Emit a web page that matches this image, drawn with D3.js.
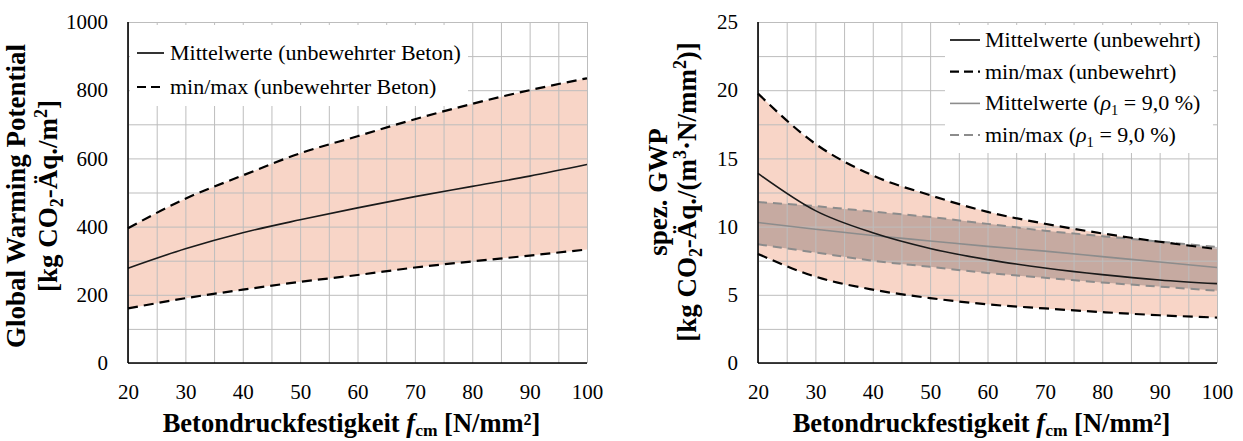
<!DOCTYPE html>
<html>
<head>
<meta charset="utf-8">
<script src="https://cdn.jsdelivr.net/npm/d3@7"></script>
<style>
body { margin: 0; background: #fff; }
svg text { font-family: "Liberation Serif", "Times New Roman", Times, serif; fill: #000; }
</style>
</head>
<body>
<svg id="chart" width="1243" height="441" font-family="Liberation Serif, serif"></svg>
<script>
var SERIF = "'Liberation Serif', 'Times New Roman', Times, serif";

// Betondruckfestigkeit f_cm [N/mm²]
var fcm = [20, 30, 40, 50, 60, 70, 80, 90, 100];

// left: Global Warming Potential [kg CO2-Äq./m²]
var gwpMean = [278, 335, 382, 420, 455, 488, 518, 548, 582];
var gwpMin  = [160, 190, 215, 238, 258, 280, 298, 315, 333];
var gwpMax  = [395, 482, 550, 615, 665, 715, 760, 800, 835];

// right: spez. GWP, unbewehrt
var specMean = [13.9, 11.17, 9.55, 8.4, 7.58, 6.97, 6.48, 6.09, 5.82];
var specMin  = [8.0, 6.33, 5.38, 4.76, 4.3, 4.0, 3.73, 3.5, 3.33];
var specMax  = [19.75, 16.07, 13.75, 12.3, 11.08, 10.21, 9.5, 8.89, 8.35];

// right: spez. GWP, rho1 = 9,0 %
var rhoMean = [10.3, 9.8, 9.35, 8.95, 8.55, 8.2, 7.8, 7.4, 7.0];
var rhoMin  = [8.7, 8.1, 7.5, 7.05, 6.6, 6.25, 5.9, 5.6, 5.3];
var rhoMax  = [11.8, 11.5, 11.1, 10.7, 10.2, 9.7, 9.3, 8.9, 8.5];

var xTicks = [20, 30, 40, 50, 60, 70, 80, 90, 100];
var gwpTicks = [0, 200, 400, 600, 800, 1000];
var specTicks = [0, 5, 10, 15, 20, 25];

var svg = d3.select("#chart");
var yTop = 22, yBot = 363;

// writes a list of text pieces (italic / sub / sup) into a text element
function rich(sel, parts, size, subShift) {
    var shift = 0;
    parts.forEach(function(p) {
        var t = sel.append("tspan").text(p.t);
        var s = 0;
        if (p.sub) s = size * (subShift || 0.22);
        if (p.sup) s = -size * 0.38;
        if (p.sub || p.sup) t.attr("font-size", size * 0.66);
        if (s != shift) t.attr("dy", s - shift);
        shift = s;
        if (p.it) t.style("font-style", "italic");
    });
}

function panel(cfg) {
    var g = svg.append("g");
    var x = d3.scaleLinear().domain([20, 100]).range([cfg.x0, cfg.x1]);
    var y = d3.scaleLinear().domain([0, cfg.ymax]).range([yBot, yTop]);

    // bands
    cfg.bands.forEach(function(b) {
        var area = d3.area()
            .curve(d3.curveMonotoneX)
            .x(function(d, i) { return x(fcm[i]); })
            .y0(function(d, i) { return y(b.lo[i]); })
            .y1(function(d, i) { return y(b.hi[i]); });
        g.append("path").datum(fcm).attr("d", area).attr("fill", b.fill).attr("stroke", "none");
    });

    // grid
    var gx = g.append("g").attr("transform", "translate(0," + yBot + ")")
        .call(d3.axisBottom(x).tickValues(d3.range(20, 101, 5)).tickSize(-(yBot - yTop)).tickFormat(""));
    var gy = g.append("g").attr("transform", "translate(" + cfg.x0 + ",0)")
        .call(d3.axisLeft(y).tickValues(d3.range(0, cfg.ymax + 0.01, cfg.gridStep)).tickSize(-(cfg.x1 - cfg.x0)).tickFormat(""));
    [gx, gy].forEach(function(a) {
        a.select(".domain").remove();
        a.selectAll("line").attr("stroke", "#bdbdbd").attr("stroke-width", 1);
    });

    // legend background
    g.append("rect")
        .attr("x", cfg.leg.x).attr("y", cfg.leg.y)
        .attr("width", cfg.leg.w).attr("height", cfg.leg.h)
        .attr("fill", "#fff");

    // curves
    var line = function(vals) {
        return d3.line().curve(d3.curveMonotoneX)
            .x(function(d, i) { return x(fcm[i]); })
            .y(function(d) { return y(d); })(vals);
    };
    cfg.lines.forEach(function(l) {
        g.append("path").attr("d", line(l.v))
            .attr("fill", "none").attr("stroke", l.color)
            .attr("stroke-width", l.w).attr("stroke-dasharray", l.dash || null);
    });

    // axes lines
    g.append("line").attr("x1", cfg.x0).attr("x2", cfg.x0).attr("y1", yTop).attr("y2", yBot)
        .attr("stroke", "#000").attr("stroke-width", 1.6);
    g.append("line").attr("x1", cfg.x0).attr("x2", cfg.x1).attr("y1", yBot).attr("y2", yBot)
        .attr("stroke", "#000").attr("stroke-width", 1.6);

    // tick labels
    var ax = g.append("g").attr("transform", "translate(0," + yBot + ")")
        .call(d3.axisBottom(x).tickValues(xTicks).tickSize(0).tickPadding(21).tickFormat(d3.format("d")));
    var ay = g.append("g").attr("transform", "translate(" + cfg.x0 + ",0)")
        .call(d3.axisLeft(y).tickValues(cfg.yTicks).tickSize(0).tickPadding(20).tickFormat(d3.format("d")));
    [ax, ay].forEach(function(a) {
        a.attr("font-family", SERIF).attr("font-size", 21);
        a.select(".domain").remove();
        a.selectAll("text").attr("font-size", 21).attr("font-family", SERIF).attr("fill", "#000");
    });

    // legend entries
    cfg.legItems.forEach(function(it, i) {
        var ly = cfg.leg.y0 + i * cfg.leg.dy;
        g.append("line").attr("x1", cfg.leg.lx0).attr("x2", cfg.leg.lx1)
            .attr("y1", ly).attr("y2", ly)
            .attr("stroke", it.color).attr("stroke-width", it.w)
            .attr("stroke-dasharray", it.dash || null);
        var t = g.append("text").attr("x", cfg.leg.tx).attr("y", ly + 7)
            .attr("font-size", 22).attr("font-family", SERIF);
        rich(t, it.parts, 22);
    });

    // x title
    var xt = g.append("text")
        .attr("x", (cfg.x0 + cfg.x1) / 2 - 6).attr("y", 432)
        .attr("text-anchor", "middle").attr("font-size", 26.5).attr("font-weight", "bold")
        .attr("font-family", SERIF);
    rich(xt, [{t: "Betondruckfestigkeit "}, {t: "f", it: true}, {t: "cm", sub: true}, {t: " [N/mm²]"}], 26.5, 0.14);

    // y title (two lines)
    cfg.yTitle.forEach(function(parts, i) {
        var t = g.append("text")
            .attr("transform", "translate(" + cfg.yTitleX[i] + "," + cfg.yTitleY + ") rotate(-90)")
            .attr("text-anchor", "middle").attr("font-size", 27).attr("font-weight", "bold")
            .attr("font-family", SERIF);
        rich(t, parts, 27);
    });
}

var pink = "#f8d5c7";

panel({
    x0: 128, x1: 587, ymax: 1000, gridStep: 100, yTicks: gwpTicks,
    bands: [{lo: gwpMin, hi: gwpMax, fill: pink}],
    lines: [
        {v: gwpMean, color: "#1a1a1a", w: 1.6},
        {v: gwpMin, color: "#000", w: 2.2, dash: "10,6"},
        {v: gwpMax, color: "#000", w: 2.2, dash: "10,6"}
    ],
    leg: {x: 130, y: 25, w: 338, h: 81, y0: 53, dy: 34, lx0: 137, lx1: 164, tx: 170},
    legItems: [
        {color: "#000", w: 1.6, parts: [{t: "Mittelwerte (unbewehrter Beton)"}]},
        {color: "#000", w: 2.2, dash: "9,5", parts: [{t: "min/max (unbewehrter Beton)"}]}
    ],
    yTitle: [
        [{t: "Global Warming Potential"}],
        [{t: "[kg CO"}, {t: "2", sub: true}, {t: "-Äq./m"}, {t: "2", sup: true}, {t: "]"}]
    ],
    yTitleX: [25, 57],
    yTitleY: 196
});

panel({
    x0: 758, x1: 1217, ymax: 25, gridStep: 2.5, yTicks: specTicks,
    bands: [
        {lo: specMin, hi: specMax, fill: pink},
        {lo: rhoMin, hi: rhoMax, fill: "rgba(110,95,95,0.36)"}
    ],
    lines: [
        {v: rhoMean, color: "#8c8c8c", w: 1.6},
        {v: rhoMin, color: "#8c8c8c", w: 2, dash: "9,6"},
        {v: rhoMax, color: "#8c8c8c", w: 2, dash: "9,6"},
        {v: specMean, color: "#1a1a1a", w: 1.6},
        {v: specMin, color: "#000", w: 2.2, dash: "10,6"},
        {v: specMax, color: "#000", w: 2.2, dash: "10,6"}
    ],
    leg: {x: 945, y: 25, w: 268, h: 128, y0: 40, dy: 31.7, lx0: 950, lx1: 980, tx: 985},
    legItems: [
        {color: "#000", w: 1.6, parts: [{t: "Mittelwerte (unbewehrt)"}]},
        {color: "#000", w: 2.2, dash: "9,5", parts: [{t: "min/max (unbewehrt)"}]},
        {color: "#8c8c8c", w: 1.6, parts: [{t: "Mittelwerte ("}, {t: "ρ", it: true}, {t: "1", sub: true}, {t: " = 9,0 %)"}]},
        {color: "#8c8c8c", w: 2, dash: "9,5", parts: [{t: "min/max ("}, {t: "ρ", it: true}, {t: "1", sub: true}, {t: " = 9,0 %)"}]}
    ],
    yTitle: [
        [{t: "spez. GWP"}],
        [{t: "[kg CO"}, {t: "2", sub: true}, {t: "-Äq./(m"}, {t: "3", sup: true}, {t: "·N/mm"}, {t: "2", sup: true}, {t: ")]"}]
    ],
    yTitleX: [667, 696],
    yTitleY: 192
});
</script>
</body>
</html>
